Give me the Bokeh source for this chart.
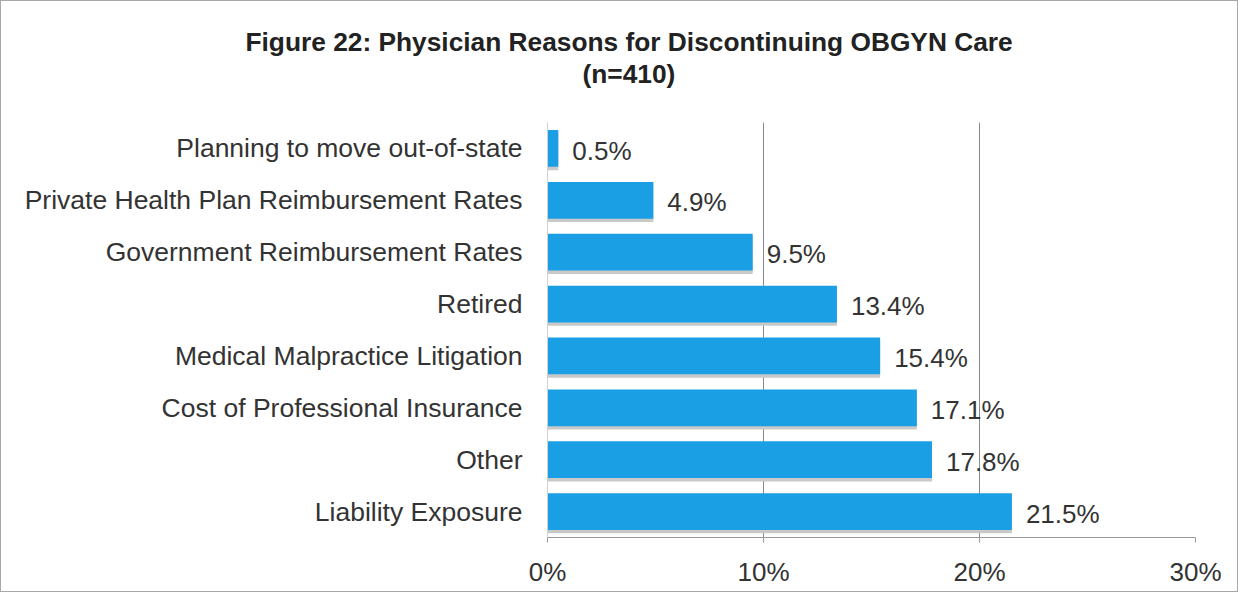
from bokeh.plotting import figure
from bokeh.models import ColumnDataSource, FactorRange, Range1d, FixedTicker, Title
from bokeh.transform import dodge
from bokeh.core.properties import value
from bokeh.embed import file_html
from bokeh.resources import INLINE

categories = [
    "Planning to move out-of-state",
    "Private Health Plan Reimbursement Rates",
    "Government Reimbursement Rates",
    "Retired",
    "Medical Malpractice Litigation",
    "Cost of Professional Insurance",
    "Other",
    "Liability Exposure",
]
values = [0.5, 4.9, 9.5, 13.4, 15.4, 17.1, 17.8, 21.5]
tick_values = [0, 10, 20, 30]
tick_labels = ["0%", "10%", "20%", "30%"]
title_line1 = "Figure 22:  Physician Reasons for Discontinuing OBGYN Care"
title_line2 = "(n=410)"

FONT = "Liberation Sans"
BAR = "#1a9fe4"
TXT = "#333333"

src = ColumnDataSource(dict(cat=categories, val=values,
                            lab=[f"{v:.1f}%" for v in values]))

p = figure(width=1238, height=592, output_backend="svg", toolbar_location=None,
           y_range=FactorRange(factors=categories[::-1]),
           x_range=Range1d(0, 30),
           min_border_left=546, min_border_right=44,
           min_border_top=121, min_border_bottom=56)
p.styles = {"border": "1px solid #a8a8a8"}
p.outline_line_color = None
p.background_fill_color = "white"
p.border_fill_color = "white"

# shadow
p.hbar(y=dodge("cat", -0.065, range=p.y_range), right="val", left=0, height=0.71,
       source=src, fill_color="#c9c9c9", line_color=None)
p.hbar(y="cat", right="val", left=0, height=0.71, source=src,
       fill_color=BAR, line_color=None)
p.text(x="val", y=dodge("cat", -0.04, range=p.y_range), text="lab", source=src,
       x_offset=14, text_baseline="middle", text_align="left",
       text_font_size="26px", text_color=TXT, text_font=value(FONT))

p.xaxis.ticker = FixedTicker(ticks=tick_values)
p.xaxis.major_label_overrides = {t: l for t, l in zip(tick_values, tick_labels)}
p.xaxis.major_label_text_font = FONT
p.xaxis.major_label_text_font_size = "26px"
p.xaxis.major_label_text_color = TXT
p.xaxis.axis_line_color = "#9a9a9a"
p.xaxis.major_tick_line_color = "#9a9a9a"
p.xaxis.major_tick_out = 5
p.xaxis.major_tick_in = 0
p.xaxis.minor_tick_line_color = None
p.xaxis.major_label_standoff = 14

p.yaxis.major_label_text_font = FONT
p.yaxis.major_label_text_font_size = "26.5px"
p.yaxis.major_label_text_color = TXT
p.yaxis.axis_line_color = "#d0d0d0"
p.yaxis.major_tick_line_color = None
p.yaxis.major_label_standoff = 19

p.xgrid.ticker = FixedTicker(ticks=[10, 20, 30])
p.xgrid.grid_line_color = "#8a8a8a"
p.xgrid.grid_line_width = 1
p.ygrid.grid_line_color = None

# spacer between frame and titles
p.add_layout(Title(text=" ", text_font_size="1px", standoff=31), "above")
p.add_layout(Title(text=title_line2, align="left", offset=35, standoff=0,
                   text_font=FONT, text_font_size="26.3px", text_font_style="bold",
                   text_color="#222222"), "above")
p.add_layout(Title(text=title_line1, align="left", offset=-302, standoff=0,
                   text_font=FONT, text_font_size="26.3px", text_font_style="bold",
                   text_color="#222222"), "above")

open("out.html", "w").write(file_html(p, INLINE))
